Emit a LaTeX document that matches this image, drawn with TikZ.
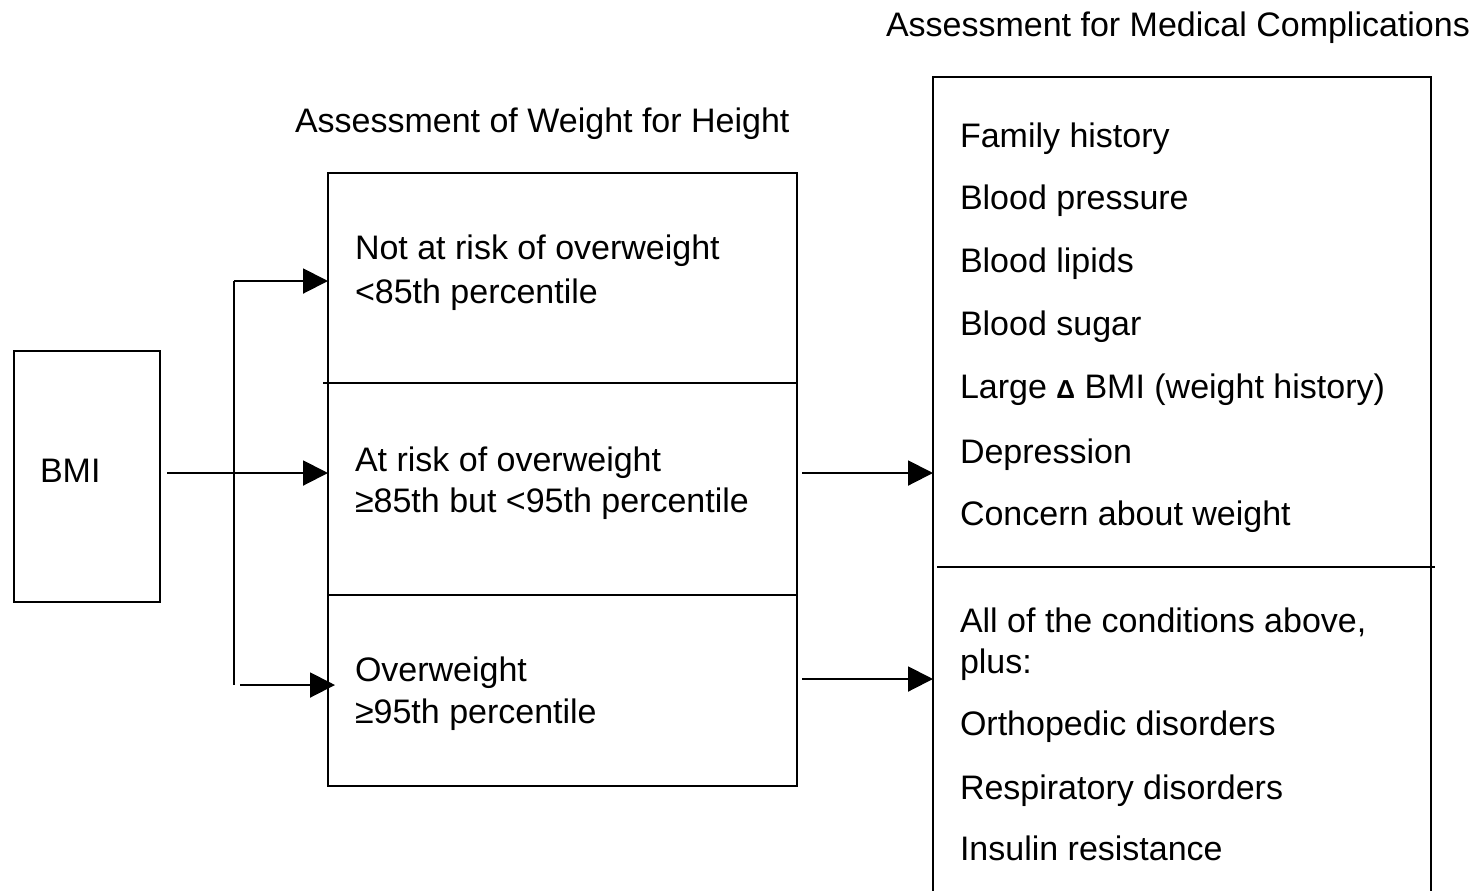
\documentclass[tikz,border=0pt]{standalone}
\usepackage{fontspec}
\setmainfont{Liberation Sans}
\usetikzlibrary{arrows.meta}
\newcommand\bodyfont{\fontsize{17pt}{20pt}\selectfont}
\newcommand\titlefont{\fontsize{17pt}{20pt}\selectfont}
\newcommand\smalldelta{{\fontsize{13pt}{13pt}\selectfont\bfseries Δ}}
\begin{document}
\begin{tikzpicture}[x=0.5pt,y=-0.5pt,
  line width=1pt,
  box/.style={draw, line width=1pt, inner sep=0pt, outer sep=0pt},
  txt/.style={anchor=base west, inner sep=0pt, outer sep=0pt, font=\bodyfont},
  ttl/.style={anchor=base west, inner sep=0pt, outer sep=0pt, font=\titlefont},
  arr/.style={line width=1pt, -{Triangle[length=12.5pt,width=12.5pt]}}]
\useasboundingbox (0,0) rectangle (1482,890);

% titles
\node[ttl] (t1) at (295,132) {Assessment of Weight for Height};
\node[ttl] (t2) at (886,36) {Assessment for Medical Complications};

% BMI box
\node[box, minimum width=73pt, minimum height=125.5pt] (bmi) at (87,476.5) {};
\node[txt] (bmit) at (40,482) {BMI};

% middle box
\node[box, minimum width=234.5pt, minimum height=306.5pt] (mid) at (562.5,479.5) {};
\coordinate (d1) at (323,383);
\coordinate (d2) at (328,595);
\draw (d1) -- (d1 -| mid.east);
\draw (d2) -- (d2 -| mid.east);

\node[txt] (m1a) at (355,259) {Not at risk of overweight};
\node[txt] (m1b) at (355,303) {<85th percentile};
\node[txt] (m2a) at (355,471) {At risk of overweight};
\node[txt] (m2b) at (355,512) {≥85th but <95th percentile};
\node[txt] (m3a) at (355,681) {Overweight};
\node[txt] (m3b) at (355,723) {≥95th percentile};

% right box (open at the bottom)
\node[inner sep=0pt, outer sep=0pt, minimum width=249pt, minimum height=411.5pt] (right) at (1182,488.5) {};
\draw (right.south west) -- (right.north west) -- (right.north east) -- (right.south east);
\coordinate (rd) at (937,567);
\draw (rd) -- ([xshift=2pt]rd -| right.east);

\node[txt] (r1) at (960,147) {Family history};
\node[txt] (r2) at (960,209) {Blood pressure};
\node[txt] (r3) at (960,272) {Blood lipids};
\node[txt] (r4) at (960,335) {Blood sugar};
\node[txt] (r5) at (960,398) {Large \smalldelta{} BMI (weight history)};
\node[txt] (r6) at (960,463) {Depression};
\node[txt] (r7) at (960,525) {Concern about weight};
\node[txt] (r8) at (960,632) {All of the conditions above,};
\node[txt] (r9) at (960,673) {plus:};
\node[txt] (r10) at (960,735) {Orthopedic disorders};
\node[txt] (r11) at (960,799) {Respiratory disorders};
\node[txt] (r12) at (960,860) {Insulin resistance};

% left connectors
\coordinate (jt) at (234,281);
\coordinate (jm) at (234,473);
\coordinate (jb) at (234,685);
\draw (jt) -- (jb);
\draw[arr] (jt) -- (mid.west |- jt);
\draw[arr, shorten <=3.5pt] (bmi.east |- jm) -- (mid.west |- jm);
\draw[arr, shorten <=3pt, shorten >=-3.5pt] (jb) -- (mid.west |- jb);

% right connectors
\coordinate (q2) at (802,679);
\draw[arr, shorten <=2.5pt] (mid.east |- jm) -- (right.west |- jm);
\draw[arr] (q2) -- (right.west |- q2);
\end{tikzpicture}
\end{document}
